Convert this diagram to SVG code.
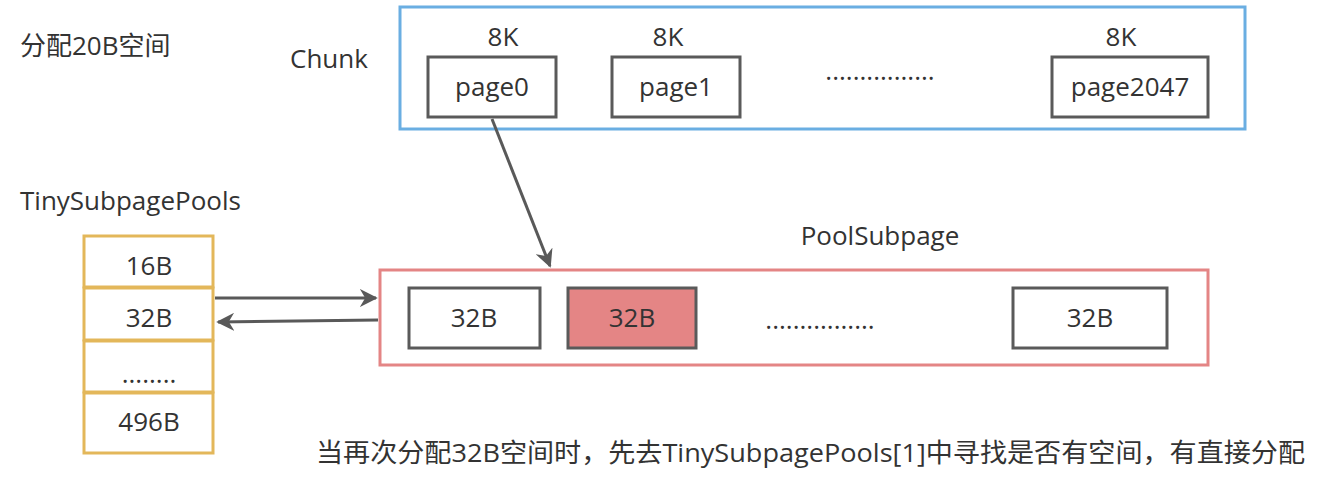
<svg xmlns="http://www.w3.org/2000/svg" width="1326" height="488" viewBox="0 0 1326 488">
<defs>
<style>
text{font-family:"Open Sans","Noto Sans CJK SC",sans-serif;font-size:26px;fill:#333333}
.c{text-anchor:middle}
.box{fill:#ffffff;stroke:#5a5a5a;stroke-width:3}
.pool{fill:#ffffff;stroke:#e3b75a;stroke-width:3}
.conn{stroke:#595959;stroke-width:3;fill:none}
</style>
<marker id="ah" viewBox="0 0 10 10" refX="9" refY="5" markerWidth="6" markerHeight="6" markerUnits="strokeWidth" orient="auto">
<path d="M0,0 L10,5 L0,10 L3,5 Z" fill="#595959"/>
</marker>
</defs>
<rect width="1326" height="488" fill="#ffffff"/>
<g id="title"><text x="20" y="55">分配20B空间</text></g>
<g id="chunk-label"><text x="290" y="68">Chunk</text></g>
<g id="chunk"><rect x="400" y="7" width="845" height="122" fill="#ffffff" stroke="#6aaee2" stroke-width="3"/></g>
<g id="page0"><text class="c" x="503" y="46">8K</text><rect class="box" x="428" y="57" width="128" height="60"/><text class="c" x="492" y="96">page0</text></g>
<g id="page1"><text class="c" x="668" y="46">8K</text><rect class="box" x="612" y="57" width="128" height="60"/><text class="c" x="676" y="96">page1</text></g>
<g id="pages-dots"><text class="c" x="880" y="80">................</text></g>
<g id="page2047"><text class="c" x="1121" y="46">8K</text><rect class="box" x="1052" y="57" width="156" height="60"/><text class="c" x="1130" y="96">page2047</text></g>
<g id="tiny-label"><text x="20" y="210">TinySubpagePools</text></g>
<g id="tiny-pools">
<rect class="pool" x="84" y="236" width="129" height="51"/><text class="c" x="149" y="275">16B</text>
<rect class="pool" x="84" y="288" width="129" height="52"/><text class="c" x="149" y="327">32B</text>
<rect class="pool" x="84" y="341" width="129" height="51"/><text class="c" x="149" y="383">........</text>
<rect class="pool" x="84" y="393" width="129" height="60"/><text class="c" x="149" y="431">496B</text>
</g>
<g id="subpage-label"><text class="c" x="880" y="245">PoolSubpage</text></g>
<g id="pool-subpage"><rect x="380" y="270" width="828" height="95" fill="#ffffff" stroke="#e48585" stroke-width="3"/></g>
<g id="sub0"><rect class="box" x="409" y="288" width="131" height="60"/><text class="c" x="474" y="327">32B</text></g>
<g id="sub1"><rect x="568" y="288" width="128" height="60" fill="#e48585" stroke="#5a5a5a" stroke-width="3"/><text class="c" x="632" y="327">32B</text></g>
<g id="sub-dots"><text class="c" x="820" y="329">................</text></g>
<g id="sub-last"><rect class="box" x="1013" y="288" width="154" height="60"/><text class="c" x="1090" y="327">32B</text></g>
<g id="note"><text x="316" y="462" textLength="989" lengthAdjust="spacingAndGlyphs">当再次分配32B空间时，先去TinySubpagePools[1]中寻找是否有空间，有直接分配</text></g>
<g id="connectors">
<line class="conn" x1="492" y1="119" x2="550" y2="266" marker-end="url(#ah)"/>
<line class="conn" x1="215" y1="298" x2="376" y2="298" marker-end="url(#ah)"/>
<line class="conn" x1="378" y1="320" x2="218" y2="322" marker-end="url(#ah)"/>
</g>
</svg>
